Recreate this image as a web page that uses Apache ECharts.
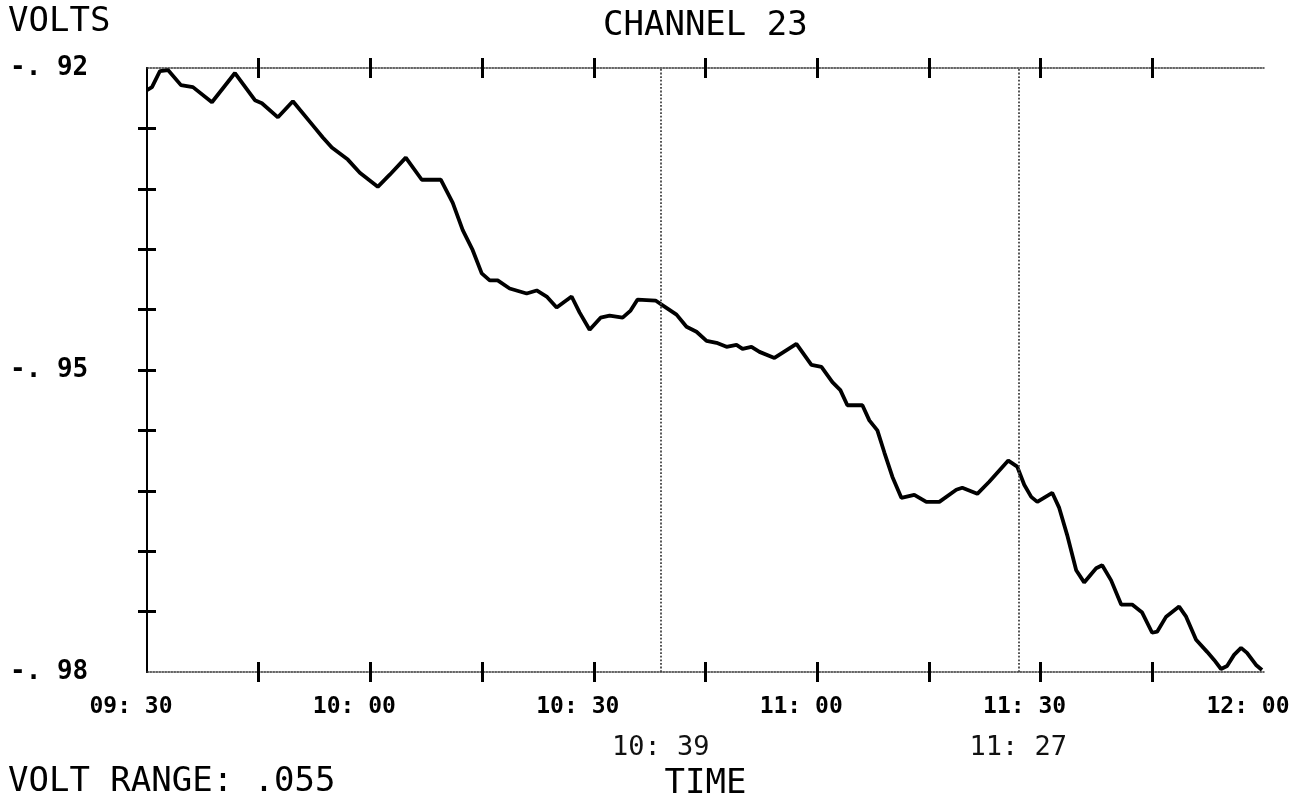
<!DOCTYPE html>
<html>
<head>
<meta charset="utf-8">
<style>
  html, body { margin: 0; padding: 0; background: #fff; }
  #chart { width: 1306px; height: 803px; }
</style>
<script src="https://cdn.jsdelivr.net/npm/echarts/dist/echarts.min.js"></script>
</head>
<body>
<div id="chart"></div>
<script>
// Minutes after 09:30 and the measured voltage of channel 23
const minutes = [0, 0.67, 1.74, 2.82, 4.56, 6.17, 8.72, 11.81, 14.49, 15.43, 17.58, 19.59, 22.27, 23.61, 24.82,
  26.97, 28.58, 30.99, 32.6, 34.75, 36.9, 39.45, 41.06, 42.4, 43.74, 44.95, 46.02, 47.09, 48.7, 50.98,
  52.33, 53.67, 55.01, 57.02, 58.1, 59.44, 60.91, 62.12, 63.87, 64.94, 65.88, 68.29, 69.5, 71.11, 72.45,
  73.79, 75.14, 76.48, 77.82, 79.16, 79.97, 81.17, 82.25, 84.26, 87.21, 89.22, 90.57, 92.04, 93.11, 94.05,
  96.07, 97.0, 98.08, 99.02, 100.09, 101.3, 103.04, 104.65, 106.4, 108.68, 109.48, 111.5, 113.1, 115.66,
  116.86, 117.8, 118.74, 119.55, 121.56, 122.5, 123.57, 124.78, 125.85, 127.46, 128.27, 129.47, 130.82,
  132.29, 133.64, 134.98, 135.65, 136.86, 138.6, 139.54, 140.88, 142.36, 143.3, 144.23, 145.04, 145.98,
  146.92, 147.72, 148.93, 149.73];
const volts = [-0.9222, -0.9219, -0.9203, -0.9202, -0.9217, -0.9219, -0.9234, -0.9205, -0.9232, -0.9235,
  -0.9249, -0.9233, -0.9257, -0.9269, -0.9279, -0.9291, -0.9304, -0.9318, -0.9306, -0.9289, -0.9311,
  -0.9311, -0.9334, -0.9361, -0.9381, -0.9404, -0.9411, -0.9411, -0.9419, -0.9424, -0.9421, -0.9427,
  -0.9438, -0.9427, -0.9443, -0.9460, -0.9448, -0.9446, -0.9448, -0.9441, -0.9430, -0.9431, -0.9437,
  -0.9445, -0.9457, -0.9462, -0.9471, -0.9473, -0.9477, -0.9475, -0.9479, -0.9477, -0.9482, -0.9488,
  -0.9474, -0.9495, -0.9497, -0.9512, -0.9520, -0.9535, -0.9535, -0.9550, -0.9560, -0.9582, -0.9606,
  -0.9627, -0.9624, -0.9631, -0.9631, -0.9619, -0.9617, -0.9623, -0.9611, -0.9590, -0.9596, -0.9614,
  -0.9626, -0.9631, -0.9622, -0.9637, -0.9664, -0.9699, -0.9711, -0.9697, -0.9694, -0.9709, -0.9733,
  -0.9733, -0.9741, -0.9761, -0.9760, -0.9745, -0.9735, -0.9745, -0.9768, -0.9780, -0.9788, -0.9797,
  -0.9794, -0.9783, -0.9776, -0.9781, -0.9793, -0.9798];

// Marker lines (minutes after 09:30)
const markerMinutes = [69, 117];
const markerLabels = ['10: 39', '11: 27'];

// Axis ticks and labels
const xTickMinutes = [15, 30, 45, 60, 75, 90, 105, 120, 135];
const xLabelMinutes = [0, 30, 60, 90, 120, 150];
const xLabelTexts = ['09: 30', '10: 00', '10: 30', '11: 00', '11: 30', '12: 00'];
const yTickValues = [-0.974, -0.968, -0.962, -0.956, -0.950, -0.944, -0.938, -0.932, -0.926];
const yLabelValues = [-0.98, -0.95, -0.92];
const yLabelTexts = ['-. 98', '-. 95', '-. 92'];

const MONO = '"DejaVu Sans Mono", "Liberation Mono", monospace';

function lookup(values, texts, v) {
  for (let i = 0; i < values.length; i++) {
    if (Math.abs(values[i] - v) < 1e-6) return texts[i];
  }
  return '';
}

const tickStyle = { color: '#000', width: 3 };

function xAxisDef(position, inside, opts) {
  return Object.assign({
    type: 'value', min: 0, max: 150, position: position,
    splitLine: { show: false },
    axisLine: { show: false },
    axisTick: { show: true, inside: inside, length: 10, lineStyle: tickStyle, customValues: xTickMinutes },
    axisLabel: { show: false }
  }, opts || {});
}
function yAxisDef(position, inside, opts) {
  return Object.assign({
    type: 'value', min: -0.98, max: -0.92, position: position,
    splitLine: { show: false },
    axisLine: { show: false },
    axisTick: { show: true, inside: inside, length: 9, lineStyle: tickStyle, customValues: yTickValues },
    axisLabel: { show: false }
  }, opts || {});
}

const chart = echarts.init(document.getElementById('chart'), null, { renderer: 'canvas' });

const bigText = { fontFamily: MONO, fontSize: 34, fontWeight: 'normal', color: '#000' };

chart.setOption({
  animation: false,
  backgroundColor: '#fff',
  title: [
    { text: 'CHANNEL 23', left: 603, top: 9, padding: 0, textStyle: bigText },
    { text: 'VOLTS', left: 8, top: 5, padding: 0, textStyle: bigText },
    { text: 'VOLT RANGE: .055', left: 8, top: 765, padding: 0, textStyle: bigText }
  ],
  grid: { left: 147, right: 42, top: 68, bottom: 131, containLabel: false, outerBoundsMode: 'none' },
  xAxis: [
    xAxisDef('bottom', false, {
      name: 'TIME', nameLocation: 'middle', nameGap: 95,
      nameTextStyle: bigText,
      axisLine: { show: true, lineStyle: { color: '#333', width: 1.5, type: 'dotted' } },
      axisLabel: {
        show: true, customValues: xLabelMinutes, margin: 24,
        fontFamily: MONO, fontSize: 23, fontWeight: 'bold', color: '#000',
        padding: [0, 32, 0, 0],
        formatter: v => lookup(xLabelMinutes, xLabelTexts, v)
      }
    }),
    xAxisDef('bottom', true),
    xAxisDef('top', false, {
      axisLine: { show: true, lineStyle: { color: '#333', width: 1.5, type: 'dotted' } }
    }),
    xAxisDef('top', true)
  ],
  yAxis: [
    yAxisDef('left', false, {
      axisLine: { show: true, lineStyle: { color: '#000', width: 2 } },
      axisLabel: {
        show: true, customValues: yLabelValues, margin: 137, align: 'left',
        fontFamily: MONO, fontSize: 26, fontWeight: 'bold', color: '#000',
        formatter: v => lookup(yLabelValues, yLabelTexts, v)
      }
    }),
    yAxisDef('left', true),
    yAxisDef('right', false, {
      axisLine: { show: true, lineStyle: { color: '#000', width: 2 } }
    }),
    yAxisDef('right', true)
  ],
  series: [{
    type: 'line',
    xAxisIndex: 0, yAxisIndex: 0,
    data: minutes.map((m, i) => [m, volts[i]]),
    showSymbol: false,
    smooth: false,
    lineStyle: { color: '#000', width: 3.8 },
    markLine: {
      silent: true,
      symbol: ['none', 'none'],
      lineStyle: { color: '#444', width: 1.8, type: 'dotted' },
      label: {
        show: true, position: 'start', distance: 62,
        fontFamily: MONO, fontSize: 27, color: '#111',
        formatter: p => markerLabels[p.dataIndex]
      },
      data: markerMinutes.map(m => ({ xAxis: m }))
    }
  }]
});
</script>
</body>
</html>
